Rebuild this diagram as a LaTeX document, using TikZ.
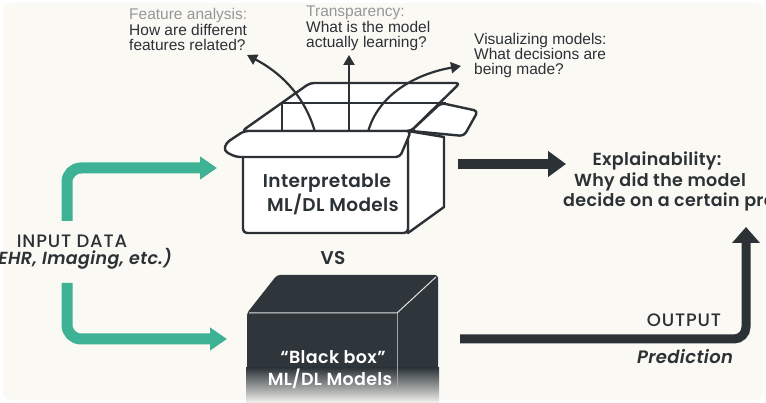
\documentclass[tikz,border=0pt]{standalone}
\usepackage{fontspec}
\setmainfont{Liberation Sans}
\newfontfamily\pop{Poppins}[LetterSpace=2,BoldFont={Poppins SemiBold},BoldItalicFont={Poppins SemiBold Italic},ItalicFont={Poppins Italic}]
\newfontfamily\popmed{Poppins Medium}[LetterSpace=4.5,ItalicFont={Poppins Medium Italic}]
\usetikzlibrary{arrows.meta}
\definecolor{bgcream}{RGB}{250,249,244}
\definecolor{ink}{RGB}{43,49,53}
\definecolor{tealflow}{RGB}{62,178,148}
\definecolor{boxdark}{RGB}{46,54,59}
\definecolor{fadegray}{RGB}{150,152,152}
\begin{document}
\begin{tikzpicture}[x=1pt,y=-1pt,
  question/.style={font=\fontsize{15.5}{18}\selectfont, text=ink, anchor=base west, inner sep=0pt},
  faded/.style={question, text=fadegray},
  biglabel/.style={font=\pop\bfseries\fontsize{18.5}{20}\selectfont, text=ink, anchor=base, inner sep=0pt},
  explabel/.style={biglabel, font=\pop\bfseries\fontsize{17.5}{20}\selectfont},
  medlabel/.style={biglabel, font=\popmed\fontsize{18}{20}\selectfont},
  flowteal/.style={draw=tealflow, line width=11pt, rounded corners=14pt, -{Triangle[length=17pt,width=22pt]}},
  flowdark/.style={draw=ink, line width=10pt, -{Triangle[length=18pt,width=25pt]}},
  boxline/.style={draw=ink, line width=2.4pt, line join=round, fill=white},
  thinarrow/.style={draw=ink, line width=2.2pt, -{Triangle[length=10pt,width=11pt]}}]

\useasboundingbox (0,0) rectangle (766,403);
\clip (0,0) rectangle (766,403);
\fill[white] (0,0) rectangle (766,403);
\fill[bgcream, rounded corners=8pt] (3,3) rectangle (763,400);

% ---------- input flows ----------
\node[medlabel] (inlabel) at (72,248) {INPUT DATA};
\node[biglabel, font=\pop\bfseries\itshape\fontsize{17.5}{20}\selectfont, anchor=base east] (insub) at (172,265) {(EHR, Imaging, etc.)};
\coordinate (inTop) at (67,221);
\coordinate (inBot) at (67,283);
\coordinate (openIn) at (217,168);
\coordinate (blackIn) at (227,339);
\draw[flowteal] (inTop) |- (openIn);
\draw[flowteal] (inBot) |- (blackIn);

% ---------- open (interpretable) box ----------
\draw[boxline, rounded corners=4pt] (242,131) -- (310,83) -- (460,83) -- (411,131) -- cycle;
\draw[ink, line width=2.4pt, line join=round] (282,131) -- (282,103) -- (446,103);
\draw[boxline, rounded corners=4pt] (441,103) -- (478,111) -- (464,136) -- (411,131) -- cycle;
\draw[boxline] (408,131) -- (444,137) -- (444,207) -- (408,233) -- cycle;
\draw[boxline, rounded corners=4pt] (243,150) -- (243,233) -- (408,233) -- (408,150);

% questions rising out of the box
\coordinate (srcL) at (315,132);
\coordinate (srcM) at (349,132);
\coordinate (srcR) at (368,132);
\coordinate (tipL) at (247,55);
\coordinate (tipM) at (349,55);
\coordinate (tipR) at (461,66);
\draw[thinarrow] (srcL) .. controls (306,100) and (285,75) .. (tipL);
\draw[thinarrow] (srcM) -- (tipM);
\draw[thinarrow] (srcR) .. controls (378,95) and (415,74) .. (tipR);

% folded front flap
\draw[boxline, rounded corners=4pt] (244,131) -- (411,131) -- (400,157) -- (236,157) -- (224,151) -- (226,143) -- cycle;

\node[biglabel] (interp1) at (327,188) {Interpretable};
\node[biglabel] (interp2) at (333,212) {ML/DL Models};

% question labels
\node[faded] (qa1) at (129,20) {Feature analysis:};
\node[question] (qa2) at (129,36) {How are different};
\node[question] (qa3) at (129,51) {features related?};
\node[faded] (qb1) at (306,17) {Transparency:};
\node[question] (qb2) at (306,33) {What is the model};
\node[question] (qb3) at (306,48) {actually learning?};
\node[question] (qc1) at (474,45) {Visualizing models:};
\node[question] (qc2) at (474,60) {What decisions are};
\node[question] (qc3) at (474,75) {being made?};

% ---------- explainability ----------
\coordinate (boxOut) at (458,164);
\coordinate (explIn) at (566,164);
\draw[flowdark] (boxOut) -- (explIn);
\node[explabel] (expl1) at (657,166) {Explainability:};
\node[explabel] (expl2) at (660,187) {Why did the model};
\node[explabel, anchor=base west] (expl3) at (563,207) {decide on a certain prediction?};

\node[biglabel] (vs) at (333,265) {VS};

% ---------- black box ----------
\fill[boxdark, rounded corners=3pt] (247,313) -- (277,275) -- (438,275) -- (438,377) -- (397,403) -- (247,403) -- cycle;
\shade[top color=boxdark, bottom color=bgcream] (246,368) rectangle (439,404);
\draw[white!85!boxdark, line width=1pt] (249,313) -- (397,313) -- (436,277);
\draw[white!55!boxdark, line width=0.8pt] (397,313) -- (397,392);
\node[biglabel, text=white, font=\pop\bfseries\fontsize{17.5}{20}\selectfont] (bb1) at (333,363) {“Black box”};
\node[biglabel, text=white, font=\pop\bfseries\fontsize{17.5}{20}\selectfont] (bb2) at (330,385) {ML/DL Models};

% ---------- output ----------
\coordinate (blackOut) at (460,339);
\coordinate (predTip) at (746,227);
\draw[draw=ink, line width=9pt, rounded corners=12pt, -{Triangle[length=16pt,width=27pt]}] (blackOut) -| (predTip);
\node[medlabel] (outlbl) at (684,327) {OUTPUT};
\node[biglabel, font=\pop\bfseries\itshape\fontsize{18}{20}\selectfont] (predlbl) at (685,363) {Prediction};
\end{tikzpicture}
\end{document}
